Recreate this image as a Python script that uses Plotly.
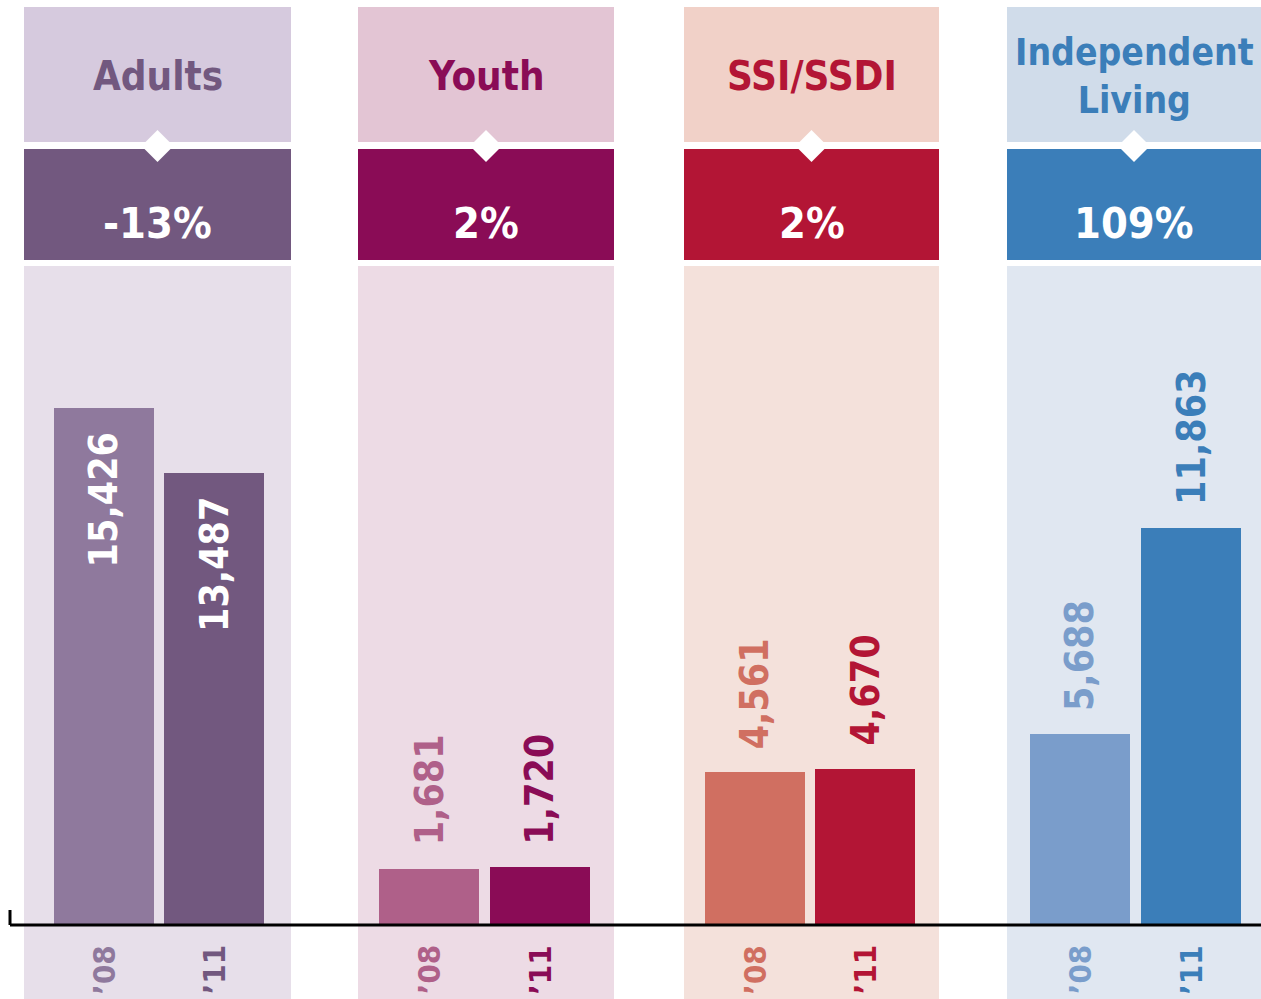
import plotly.graph_objects as go

# ---- data ----
groups = ["Adults", "Youth", "SSI/SSDI", "Independent<br>Living"]
pct_change = ["-13%", "2%", "2%", "109%"]
years = ["’08", "’11"]
values_08 = [15426, 1681, 4561, 5688]
values_11 = [13487, 1720, 4670, 11863]

# ---- styles ----
header_bg = ["#d6cade", "#e3c5d4", "#f1d1c8", "#d0dcea"]
body_bg = ["#e7dfea", "#eddbe5", "#f4e1db", "#e0e7f1"]
dark = ["#72587f", "#8a0c56", "#b31535", "#3b7eb9"]
light = ["#8f799d", "#af6089", "#d06f61", "#7a9dcb"]
label_inside = [True, False, False, False]
panel_left_px = [24, 358, 684, 1007]
panel_right_px = [291, 614, 939, 1261]
title_size = [40, 40, 40, 37]

FONT = "DejaVu Sans Condensed, Liberation Sans Narrow, sans-serif"
W, H = 1261, 999
X0, X1 = -0.4885, 3.3856
Y0, Y1 = -2209, 27612
OFF = 0.17
BW = 0.307

def py(px):
    return 1 - px / H

px_per_x = W / (X1 - X0)

def xu(px):
    return X0 + px / px_per_x

fig = go.Figure()

x08 = [i - OFF for i in range(len(groups))]
x11 = [i + OFF for i in range(len(groups))]
fig.add_trace(go.Bar(x=x08, y=values_08, width=BW, marker=dict(color=light, line=dict(width=0)),
                     hoverinfo="skip", showlegend=False))
fig.add_trace(go.Bar(x=x11, y=values_11, width=BW, marker=dict(color=dark, line=dict(width=0)),
                     hoverinfo="skip", showlegend=False))

shapes = []
annotations = []
for i, g in enumerate(groups):
    xl, xr = xu(panel_left_px[i]), xu(panel_right_px[i])
    xc = (xl + xr) / 2
    shapes.append(dict(type="rect", xref="x", yref="paper", x0=xl, x1=xr,
                       y0=0, y1=py(266), fillcolor=body_bg[i], line=dict(width=0), layer="below"))
    shapes.append(dict(type="rect", xref="x", yref="paper", x0=xl, x1=xr,
                       y0=py(142), y1=py(7), fillcolor=header_bg[i], line=dict(width=0), layer="below"))
    shapes.append(dict(type="rect", xref="x", yref="paper", x0=xl, x1=xr,
                       y0=py(260), y1=py(149), fillcolor=dark[i], line=dict(width=0), layer="below"))
    cy = py(146)
    dx = 16 / px_per_x
    dy = 16 / H
    shapes.append(dict(type="path", xref="x", yref="paper",
                       path=f"M {xc},{cy + dy} L {xc + dx},{cy} L {xc},{cy - dy} L {xc - dx},{cy} Z",
                       fillcolor="white", line=dict(width=0), layer="below"))
    annotations.append(dict(x=xc, y=py(76), xref="x", yref="paper", text=f"<b>{g}</b>",
                            showarrow=False, font=dict(family=FONT, size=title_size[i], color=dark[i]),
                            xanchor="center", yanchor="middle"))
    annotations.append(dict(x=xc, y=py(223), xref="x", yref="paper", text=f"<b>{pct_change[i]}</b>",
                            showarrow=False, font=dict(family=FONT, size=43, color="white"),
                            xanchor="center", yanchor="middle"))
    for xv, v, col in ((x08[i], values_08[i], light[i]), (x11[i], values_11[i], dark[i])):
        if label_inside[i]:
            annotations.append(dict(x=xv, y=v, xref="x", yref="y", text=f"<b>{v:,}</b>", textangle=-90,
                                    showarrow=False, font=dict(family=FONT, size=39, color="white"),
                                    xanchor="center", yanchor="top", yshift=-22))
        else:
            annotations.append(dict(x=xv, y=v, xref="x", yref="y", text=f"<b>{v:,}</b>", textangle=-90,
                                    showarrow=False, font=dict(family=FONT, size=39, color=col),
                                    xanchor="center", yanchor="bottom", yshift=21))
    for xv, yr, col in ((x08[i], years[0], light[i]), (x11[i], years[1], dark[i])):
        annotations.append(dict(x=xv, y=py(970), xref="x", yref="paper", text=f"<b>{yr}</b>", textangle=-90,
                                showarrow=False, font=dict(family=FONT, size=31, color=col),
                                xanchor="center", yanchor="middle"))

shapes.append(dict(type="line", xref="paper", yref="y", x0=10 / W, x1=1, y0=0, y1=0,
                   line=dict(color="black", width=3), layer="above"))
shapes.append(dict(type="line", xref="paper", yref="paper", x0=10 / W, x1=10 / W, y0=py(925), y1=py(910),
                   line=dict(color="black", width=3), layer="above"))

fig.update_layout(
    width=W, height=H,
    margin=dict(l=0, r=0, t=0, b=0),
    paper_bgcolor="white", plot_bgcolor="white",
    xaxis=dict(range=[X0, X1], visible=False, fixedrange=True),
    yaxis=dict(range=[Y0, Y1], visible=False, fixedrange=True),
    shapes=shapes, annotations=annotations,
    bargap=0, showlegend=False,
)

fig.write_html("out.html", config={"displayModeBar": False},
               post_script="document.body.style.margin='0';document.body.style.overflow='hidden';")
